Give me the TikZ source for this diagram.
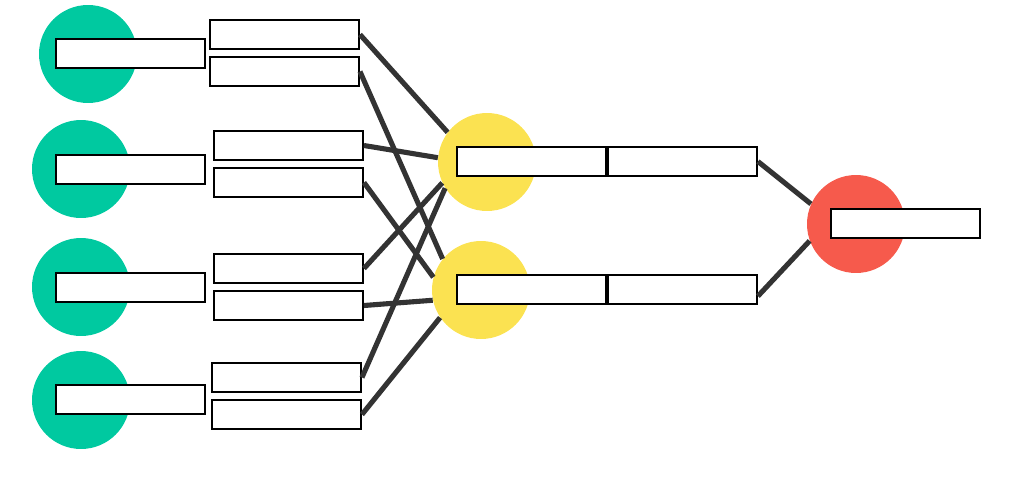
\documentclass[tikz,border=0pt]{standalone}
\usepackage{tikz}
\definecolor{ingreen}{HTML}{00C9A0}
\definecolor{hidyellow}{HTML}{FBE251}
\definecolor{outred}{HTML}{F65A4C}
\definecolor{edgegray}{HTML}{333333}
\tikzset{
  neuron/.style={circle, minimum size=1.96cm, inner sep=0pt},
  field/.style={draw, fill=white, line width=1.1pt, minimum width=2.98cm, minimum height=0.58cm, inner sep=0pt},
  edge/.style={edgegray, line width=2.9pt}
}

\begin{document}
\begin{tikzpicture}[x=0.02cm, y=-0.02cm]
    \useasboundingbox (0, 0) rectangle (1011, 490);

    % inputs
    \node (i1) [neuron, fill=ingreen] at (88, 54) {};
    \node (i2) [neuron, fill=ingreen] at (81, 169) {};
    \node (i3) [neuron, fill=ingreen] at (81, 287) {};
    \node (i4) [neuron, fill=ingreen] at (81, 400) {};
    \node (i1l) [field] at (130.5, 53.5) {};
    \node (i2l) [field] at (130.5, 169.5) {};
    \node (i3l) [field] at (130.5, 287.5) {};
    \node (i4l) [field] at (130.5, 399.5) {};

    % weights
    \node (w1a) [field] at (284.5, 34.5) {};
    \node (w1b) [field] at (284.5, 71.5) {};
    \node (w2a) [field] at (288.5, 145.5) {};
    \node (w2b) [field] at (288.5, 182.5) {};
    \node (w3a) [field] at (288.5, 268.5) {};
    \node (w3b) [field] at (288.5, 305.5) {};
    \node (w4a) [field] at (286.5, 377.5) {};
    \node (w4b) [field] at (286.5, 414.5) {};

    % hidden layer
    \node (h1) [neuron, fill=hidyellow] at (487, 162) {};
    \node (h2) [neuron, fill=hidyellow] at (481, 290) {};
    \node (h1a) [field] at (531.5, 161.5) {};
    \node (h1b) [field] at (682.5, 161.5) {};
    \node (h2a) [field] at (531.5, 289.5) {};
    \node (h2b) [field] at (682.5, 289.5) {};

    % output
    \node (o) [neuron, fill=outred] at (856, 224) {};
    \node (ol) [field] at (905.5, 223.5) {};

    \draw[edge] (w1a.east) -- (h1.143);
    \draw[edge] (w1b.east) -- (h2.141);
    \draw[edge] (w2a.east) -- (h1.175);
    \draw[edge] (w2b.east) -- (h2.165);
    \draw[edge] (w3a.east) -- (h1.205);
    \draw[edge] (w3b.east) -- (h2.192);
    \draw[edge] (w4a.east) -- (h1.212);
    \draw[edge] (w4b.east) -- (h2.214);
    \draw[edge] (h1b.east) -- (o.156);
    \draw[edge] (h2b.-5) -- (o.200);
\end{tikzpicture}
\end{document}
